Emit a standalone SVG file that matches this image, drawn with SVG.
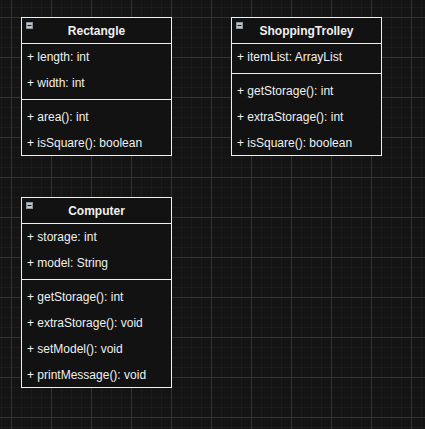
<svg xmlns="http://www.w3.org/2000/svg" width="425" height="429" viewBox="0 0 425 429">
<style>
.box{fill:#121212;stroke:#f0f0f0;stroke-width:1}
.sep{stroke:#f0f0f0;stroke-width:1}
.t{font-family:"Liberation Sans",Arial,Helvetica,sans-serif;font-size:12px;fill:#f0f0f0}
.h{font-family:"Liberation Sans",Arial,Helvetica,sans-serif;font-size:12px;font-weight:bold;fill:#f0f0f0;text-anchor:middle}
.fold{fill:#c4c8d0;stroke:#8c9099;stroke-width:1}
.minus{stroke:#222;stroke-width:1.2}
</style>
<defs>
<pattern id="grid" x="11" y="17" width="40" height="40" patternUnits="userSpaceOnUse">
<path d="M10.5 0V40M20.5 0V40M30.5 0V40M0 10.5H40M0 20.5H40M0 30.5H40" stroke="#1b1b1b" stroke-width="1" fill="none"/>
<path d="M0.5 0V40M0 0.5H40" stroke="#343434" stroke-width="1" fill="none"/>
</pattern>
<g id="foldIcon">
<rect class="fold" x="0.5" y="0.5" width="6" height="6"/>
<line class="minus" x1="1.5" y1="3.5" x2="5.5" y2="3.5"/>
</g>
</defs>
<rect width="425" height="429" fill="#141414"/>
<rect width="425" height="429" fill="url(#grid)"/>
<g id="connectors"/>
<g id="Rectangle">
<rect class="box" x="21.5" y="17.5" width="150" height="138"/>
<line class="sep" x1="21.5" y1="43.5" x2="171.5" y2="43.5"/>
<line class="sep" x1="21.5" y1="99.5" x2="171.5" y2="99.5"/>
<use href="#foldIcon" x="26" y="22"/>
<text class="h" x="96.5" y="34.5">Rectangle</text>
<text class="t" x="27" y="60.5">+ length: int</text>
<text class="t" x="27" y="86.5">+ width: int</text>
<text class="t" x="27" y="120.5">+ area(): int</text>
<text class="t" x="27" y="146.5">+ isSquare(): boolean</text>
</g>
<g id="ShoppingTrolley">
<rect class="box" x="231.5" y="17.5" width="150" height="138"/>
<line class="sep" x1="231.5" y1="43.5" x2="381.5" y2="43.5"/>
<line class="sep" x1="231.5" y1="73.5" x2="381.5" y2="73.5"/>
<use href="#foldIcon" x="236" y="22"/>
<text class="h" x="306.5" y="34.5">ShoppingTrolley</text>
<text class="t" x="237" y="60.5">+ itemList: ArrayList</text>
<text class="t" x="237" y="94.5">+ getStorage(): int</text>
<text class="t" x="237" y="120.5">+ extraStorage(): int</text>
<text class="t" x="237" y="146.5">+ isSquare(): boolean</text>
</g>
<g id="Computer">
<rect class="box" x="21.5" y="197.5" width="150" height="190"/>
<line class="sep" x1="21.5" y1="223.5" x2="171.5" y2="223.5"/>
<line class="sep" x1="21.5" y1="279.5" x2="171.5" y2="279.5"/>
<use href="#foldIcon" x="26" y="202"/>
<text class="h" x="96.5" y="214.5">Computer</text>
<text class="t" x="27" y="240.5">+ storage: int</text>
<text class="t" x="27" y="266.5">+ model: String</text>
<text class="t" x="27" y="300.5">+ getStorage(): int</text>
<text class="t" x="27" y="326.5">+ extraStorage(): void</text>
<text class="t" x="27" y="352.5">+ setModel(): void</text>
<text class="t" x="27" y="378.5">+ printMessage(): void</text>
</g>
</svg>
